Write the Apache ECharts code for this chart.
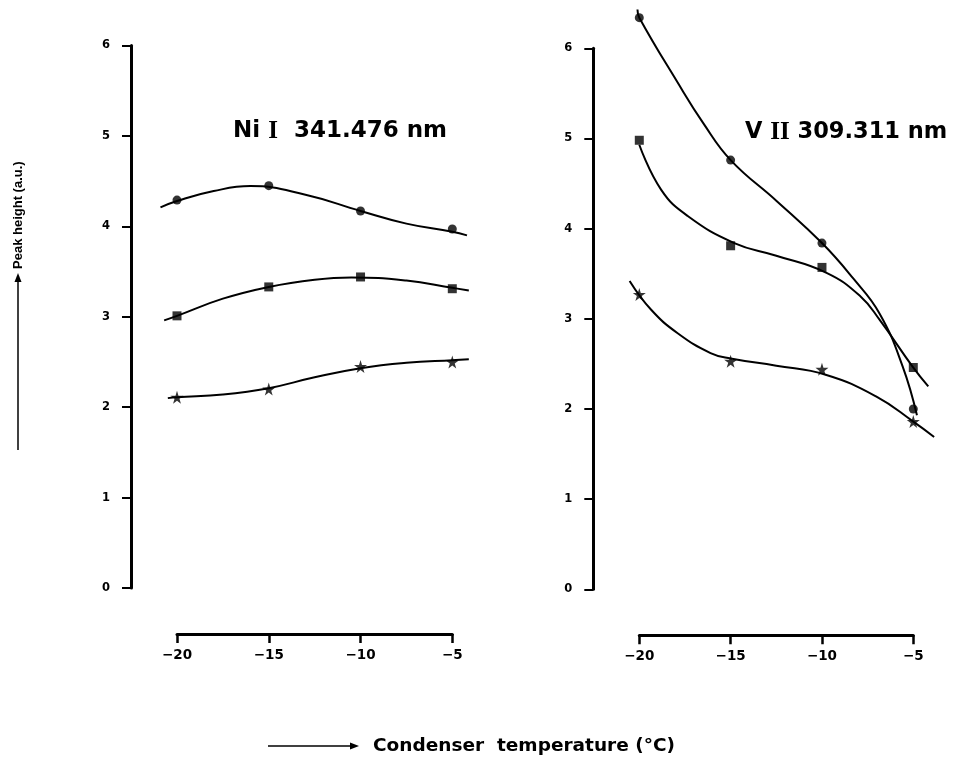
<!DOCTYPE html>
<html>
<head>
<meta charset="utf-8">
<script src="https://cdn.jsdelivr.net/npm/echarts@6/dist/echarts.min.js"></script>
<style>
html,body{margin:0;padding:0;background:#fff;}
#chart{width:959px;height:763px;}
</style>
</head>
<body>
<div id="chart"></div>
<script>
// ---- data ----
const temps = [-20, -15, -10, -5];
const xTickLabels = ['\u221220', '\u221215', '\u221210', '\u22125'];
const yTickLabels = ['0', '1', '2', '3', '4', '5', '6'];

// Ni I 341.476 nm – measured points
const niCircle = [4.29, 4.45, 4.17, 3.97];
const niSquare = [3.01, 3.33, 3.44, 3.31];
const niStar   = [2.11, 2.20, 2.45, 2.50];
// Ni I – fitted curves as drawn (x, y)
const niCircleCurve = [[-20.9,4.21],[-20,4.28],[-18,4.39],[-16,4.445],[-13,4.35],[-10,4.17],[-7.5,4.03],[-5,3.94],[-4.2,3.90]];
const niSquareCurve = [[-20.7,2.96],[-20,3.01],[-17.5,3.20],[-15,3.33],[-12.5,3.41],[-10.5,3.435],[-7.5,3.40],[-5,3.32],[-4.1,3.29]];
const niStarCurve   = [[-20.5,2.10],[-20,2.11],[-17.5,2.14],[-15,2.21],[-12.5,2.33],[-10,2.43],[-7.5,2.49],[-5,2.52],[-4.1,2.53]];

// V II 309.311 nm – measured points
const vCircle = [6.34, 4.76, 3.84, 2.00];
const vSquare = [4.98, 3.81, 3.57, 2.46];
const vStar   = [3.27, 2.53, 2.44, 1.86];
// V II – fitted curves as drawn (x, y)
const vCircleCurve = [[-20.1,6.43],[-20,6.34],[-17.9,5.62],[-16.5,5.17],[-15,4.76],[-12.5,4.31],[-10,3.84],[-8.3,3.45],[-6.85,3.06],[-5.58,2.47],[-4.8,1.93]];
const vSquareCurve = [[-20,4.93],[-18.8,4.43],[-17.35,4.14],[-14.8,3.84],[-12.5,3.70],[-9.75,3.51],[-7.9,3.25],[-6.85,2.99],[-5.04,2.47],[-4.18,2.25]];
const vStarCurve   = [[-20.53,3.42],[-19.35,3.10],[-17.9,2.84],[-16.1,2.62],[-15,2.56],[-12.5,2.48],[-9.8,2.38],[-7.04,2.14],[-5,1.86],[-3.86,1.69]];

// ---- chart ----
const FONT = '"Liberation Sans", Arial, sans-serif';
const WIDE = '"DejaVu Sans", "Liberation Sans", sans-serif';
const SERIF = '"Liberation Serif", "DejaVu Serif", serif';
const starPath = 'path://M50,0 L61,35 L98,35 L68,57 L79,91 L50,70 L21,91 L32,57 L2,35 L39,35 Z';

function pts(ys){ return temps.map((t,i)=>[t, ys[i]]); }

// visible axes: x from -20 to -5
function xAxisDef(gi){
  return {
    gridIndex: gi, type: 'value', min: -20, max: -5, interval: 5,
    offset: 46,
    axisLine: {show: true, onZero: false, lineStyle: {color: '#000', width: 3}},
    axisTick: {show: true, inside: false, length: 9, lineStyle: {color: '#000', width: 2.5}},
    axisLabel: {color: '#000', fontFamily: WIDE, fontWeight: 'bold', fontSize: 13.5, margin: 14,
      formatter: v => xTickLabels[temps.indexOf(v)] || ''},
    splitLine: {show: false}
  };
}
function yAxisDef(gi){
  return {
    gridIndex: gi, type: 'value', min: 0, max: 6, interval: 1,
    offset: 46,
    axisLine: {show: true, onZero: false, lineStyle: {color: '#000', width: 3}},
    axisTick: {show: true, inside: false, length: 9, lineStyle: {color: '#000', width: 2}},
    axisLabel: {color: '#000', fontFamily: WIDE, fontWeight: 'bold', fontSize: 11.5, margin: 21,
      formatter: v => yTickLabels[v] || ''},
    splitLine: {show: false}
  };
}
// hidden axes for the plotted marks: same scale, wider x extent (-22 .. -3)
function xHidden(gi){
  return {gridIndex: gi, type: 'value', min: -22, max: -3, show: false, splitLine: {show: false}};
}
function yHidden(gi){
  return {gridIndex: gi, type: 'value', min: 0, max: 6, show: false, splitLine: {show: false}};
}
function curve(gi, data){
  return {type: 'line', xAxisIndex: gi, yAxisIndex: gi, data: data, smooth: 0.45,
    showSymbol: false, symbol: 'none', clip: false, silent: true,
    lineStyle: {color: '#000', width: 2}};
}
function marks(gi, ys, symbol, size){
  return {type: 'scatter', xAxisIndex: gi, yAxisIndex: gi, data: pts(ys), symbol: symbol,
    symbolSize: size, clip: false, silent: true, itemStyle: {color: '#000'}};
}

const pxL = 275.3 / 15, pxR = 274 / 15;
const chart = echarts.init(document.getElementById('chart'), null, {renderer: 'canvas'});
chart.setOption({
  animation: false,
  backgroundColor: '#fff',
  grid: [
    {left: 177, top: 45.5, width: 275.3, height: 542.5},
    {left: 639.3, top: 48.3, width: 274, height: 541},
    {left: 177 - 2 * pxL, top: 45.5, width: 19 * pxL, height: 542.5},
    {left: 639.3 - 2 * pxR, top: 48.3, width: 19 * pxR, height: 541}
  ],
  xAxis: [xAxisDef(0), xAxisDef(1), xHidden(2), xHidden(3)],
  yAxis: [yAxisDef(0), yAxisDef(1), yHidden(2), yHidden(3)],
  title: [
    {text: '{a|Ni }{r|I}{a|  341.476 nm}', left: 228, top: 114,
     textStyle: {rich: {
       a: {fontFamily: WIDE, fontWeight: 'bold', fontSize: 23, color: '#000'},
       r: {fontFamily: SERIF, fontWeight: 'bold', fontSize: 25, color: '#000'}}}},
    {text: '{a|V }{r|II}{a| 309.311 nm}', left: 740, top: 115,
     textStyle: {rich: {
       a: {fontFamily: WIDE, fontWeight: 'bold', fontSize: 22.5, color: '#000'},
       r: {fontFamily: SERIF, fontWeight: 'bold', fontSize: 25, color: '#000'}}}}
  ],
  graphic: [
    // y-axis title with arrow
    {type: 'line', shape: {x1: 18, y1: 450, x2: 18, y2: 281}, style: {stroke: '#000', lineWidth: 1.5}},
    {type: 'polygon', shape: {points: [[14.5,282],[21.5,282],[18,273]]}, style: {fill: '#000'}},
    {type: 'text', x: 18, y: 269, rotation: Math.PI/2,
     style: {text: 'Peak height (a.u.)', fontFamily: FONT, fontWeight: 'bold', fontSize: 13,
             fill: '#000', textAlign: 'left', textVerticalAlign: 'middle'}},
    // x-axis title with arrow
    {type: 'line', shape: {x1: 268, y1: 746, x2: 352, y2: 746}, style: {stroke: '#000', lineWidth: 1.5}},
    {type: 'polygon', shape: {points: [[350,742.5],[350,749.5],[359,746]]}, style: {fill: '#000'}},
    {type: 'text', x: 373, y: 746,
     style: {text: 'Condenser  temperature (\u00B0C)', fontFamily: WIDE, fontWeight: 'bold', fontSize: 18.5,
             fill: '#000', textAlign: 'left', textVerticalAlign: 'middle'}}
  ],
  series: [
    curve(2, niCircleCurve), curve(2, niSquareCurve), curve(2, niStarCurve),
    marks(2, niCircle, 'circle', 9), marks(2, niSquare, 'rect', 9), marks(2, niStar, starPath, 13),
    curve(3, vCircleCurve), curve(3, vSquareCurve), curve(3, vStarCurve),
    marks(3, vCircle, 'circle', 9), marks(3, vSquare, 'rect', 9), marks(3, vStar, starPath, 13)
  ]
});
</script>
</body>
</html>
